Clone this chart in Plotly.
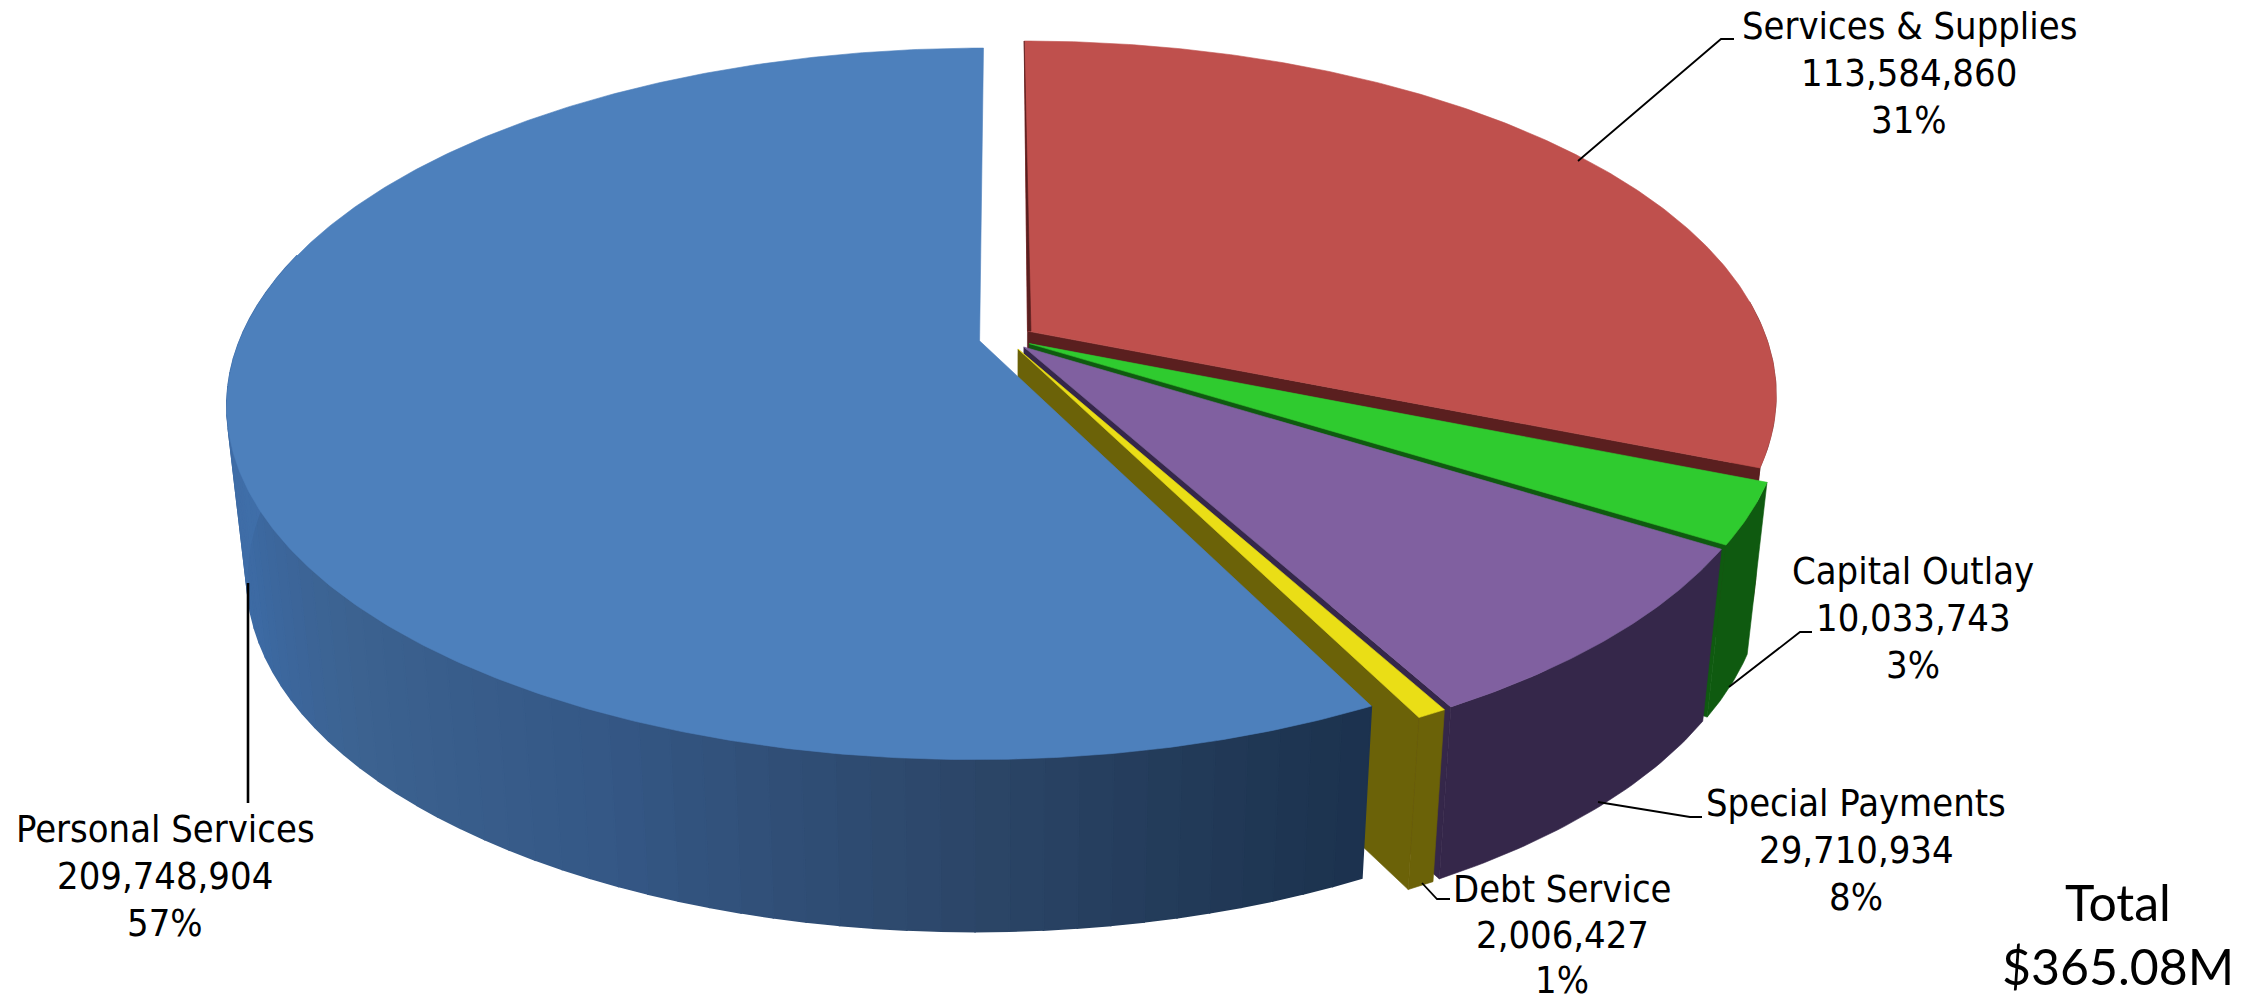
import numpy as np
import plotly.graph_objects as go

# Budget categories, clockwise from twelve o'clock
categories = ["Services & Supplies", "Capital Outlay", "Special Payments", "Debt Service", "Personal Services"]
amounts = [113584860, 10033743, 29710934, 2006427, 209748904]
percents = ["31%", "3%", "8%", "1%", "57%"]
total_label = ["Total", "$365.08M"]

top_colors = ["#BF504D", "#2FCB2F", "#8060A0", "#EADE16", "#4D80BC"]
cut_colors = ["#5A1F1F", "#0F5A10", "#35274A", "#6B6208", "#1E3552"]

# Shade of the long outer wall, by angle around the disc
blue_wall_angles = [153, 165, 180, 205, 227, 248, 275]
blue_wall_shades = ["#1C324E", "#223A58", "#2C4668", "#355886", "#3C6290", "#3D6AA3", "#4170AB"]

W, H = 2266, 1004
CX, CY = 1005.5, 338.0          # disc centre on the canvas
FX, FY, PERSP = 739.0, 343.6, 0.1767
EXPLODE = 0.036
DEPTH = 172.0
BASE_SHRINK = 0.974
LABEL_FONT = "DejaVu Sans Condensed, Roboto"


def project(x, y, base=False):
    """Perspective view of a point on the disc; base=True gives the lower rim."""
    w = 1 + PERSP * y
    u = FX * x / w
    v = -FY * y / w
    if base:
        return CX + u * BASE_SHRINK, CY + v + DEPTH
    return CX + u, CY + v


def rim(theta, off):
    t = np.radians(theta)
    return np.sin(t) + off[0], np.cos(t) + off[1]


fig = go.Figure()


def poly(xs, ys, color, edge=0.6):
    xs, ys = list(xs), list(ys)
    fig.add_trace(go.Scatter(x=xs + xs[:1], y=ys + ys[:1], mode="lines", fill="toself",
                             fillcolor=color, line=dict(color=color, width=edge),
                             hoverinfo="skip", showlegend=False))


def wall_shade(theta):
    rgb = np.array([[int(c[i:i + 2], 16) for i in (1, 3, 5)] for c in blue_wall_shades], float)
    vals = [np.interp(theta, blue_wall_angles, rgb[:, k]) for k in range(3)]
    return "rgb(%d,%d,%d)" % tuple(vals)


spans = 360.0 * np.array(amounts) / sum(amounts)
edges = np.concatenate([[0.0], np.cumsum(spans)])

# Painter's order: the categories run from the back of the disc to its front
for i in range(len(amounts)):
    a0, a1 = edges[i], edges[i + 1]
    mid = np.radians((a0 + a1) / 2)
    off = (EXPLODE * np.sin(mid), EXPLODE * np.cos(mid))
    cut = cut_colors[i]

    # cut face on the clockwise side of the slice
    if i < 4:
        ex, ey = rim(a1, off)
        p0, p1 = project(*off), project(ex, ey)
        b1, b0 = project(ex, ey, True), project(*off, True)
        poly([p0[0], p1[0], b1[0], b0[0]], [p0[1], p1[1], b1[1], b0[1]], cut)

    # outer wall: shaded strips on the largest slice, a flat band on the others
    if i == 4:
        th = np.linspace(a0, min(a1, 285), 60)
        for j in range(len(th) - 1):
            ax, ay = rim(th[j], off)
            bx, by = rim(th[j + 1], off)
            q = [project(ax, ay), project(bx, by), project(bx, by, True), project(ax, ay, True)]
            poly([p[0] for p in q], [p[1] for p in q], wall_shade((th[j] + th[j + 1]) / 2), edge=1.6)
    else:
        th = np.linspace(max(a0, 85), a1, 40)
        upper = [project(*rim(t, off)) for t in th]
        lower = [project(*rim(t, off), True) for t in th[::-1]]
        poly([p[0] for p in upper + lower], [p[1] for p in upper + lower], cut)

    # top face
    th = np.linspace(a0, a1, max(4, int(a1 - a0) * 2))
    outline = [project(*rim(t, off)) for t in th]
    apex = project(*off)
    poly([apex[0]] + [p[0] for p in outline], [apex[1]] + [p[1] for p in outline], top_colors[i])

    # thin sliver of shadow along the back edge of the first slice
    if i == 0:
        tip = outline[0]
        poly([apex[0], apex[0] + 3.5, tip[0]], [apex[1], apex[1], tip[1]], cut)


def leader(xs, ys, width=1.8):
    fig.add_trace(go.Scatter(x=xs, y=ys, mode="lines", line=dict(color="#000000", width=width),
                             hoverinfo="skip", showlegend=False))


leader([1578, 1721, 1734], [161, 39, 39])
leader([1729, 1800, 1812], [687, 632, 632])
leader([1598, 1690, 1702], [802, 817, 817])
leader([1422, 1437, 1450], [883, 899, 899])
leader([248, 248], [583, 803], 2.6)

label_x = [1909, 1913, 1856, 1562, 165]
label_y = [26, 571, 803, 889, 829]
label_gap = [47.0, 47.0, 47.0, 45.5, 47.0]
for i, name in enumerate(categories):
    lines = [name, f"{amounts[i]:,}", percents[i]]
    for j, s in enumerate(lines):
        fig.add_annotation(x=label_x[i], y=label_y[i] + j * label_gap[i], text=s, showarrow=False,
                           xanchor="center", yanchor="middle",
                           font=dict(family=LABEL_FONT, size=37.8, color="#000000"))

fig.add_annotation(x=2118, y=902, text=total_label[0], showarrow=False, xanchor="center", yanchor="middle",
                   font=dict(family="Lato", size=50, color="#000000"))
fig.add_annotation(x=2118, y=966, text=total_label[1], showarrow=False, xanchor="center", yanchor="middle",
                   font=dict(family="Lato", size=50, color="#000000"))

fig.update_layout(width=W, height=H, margin=dict(l=0, r=0, t=0, b=0),
                  paper_bgcolor="#FFFFFF", plot_bgcolor="#FFFFFF", showlegend=False,
                  xaxis=dict(range=[0, W], visible=False, fixedrange=True),
                  yaxis=dict(range=[H, 0], visible=False, fixedrange=True))
fig.write_html("out.html", config=dict(displayModeBar=False))
